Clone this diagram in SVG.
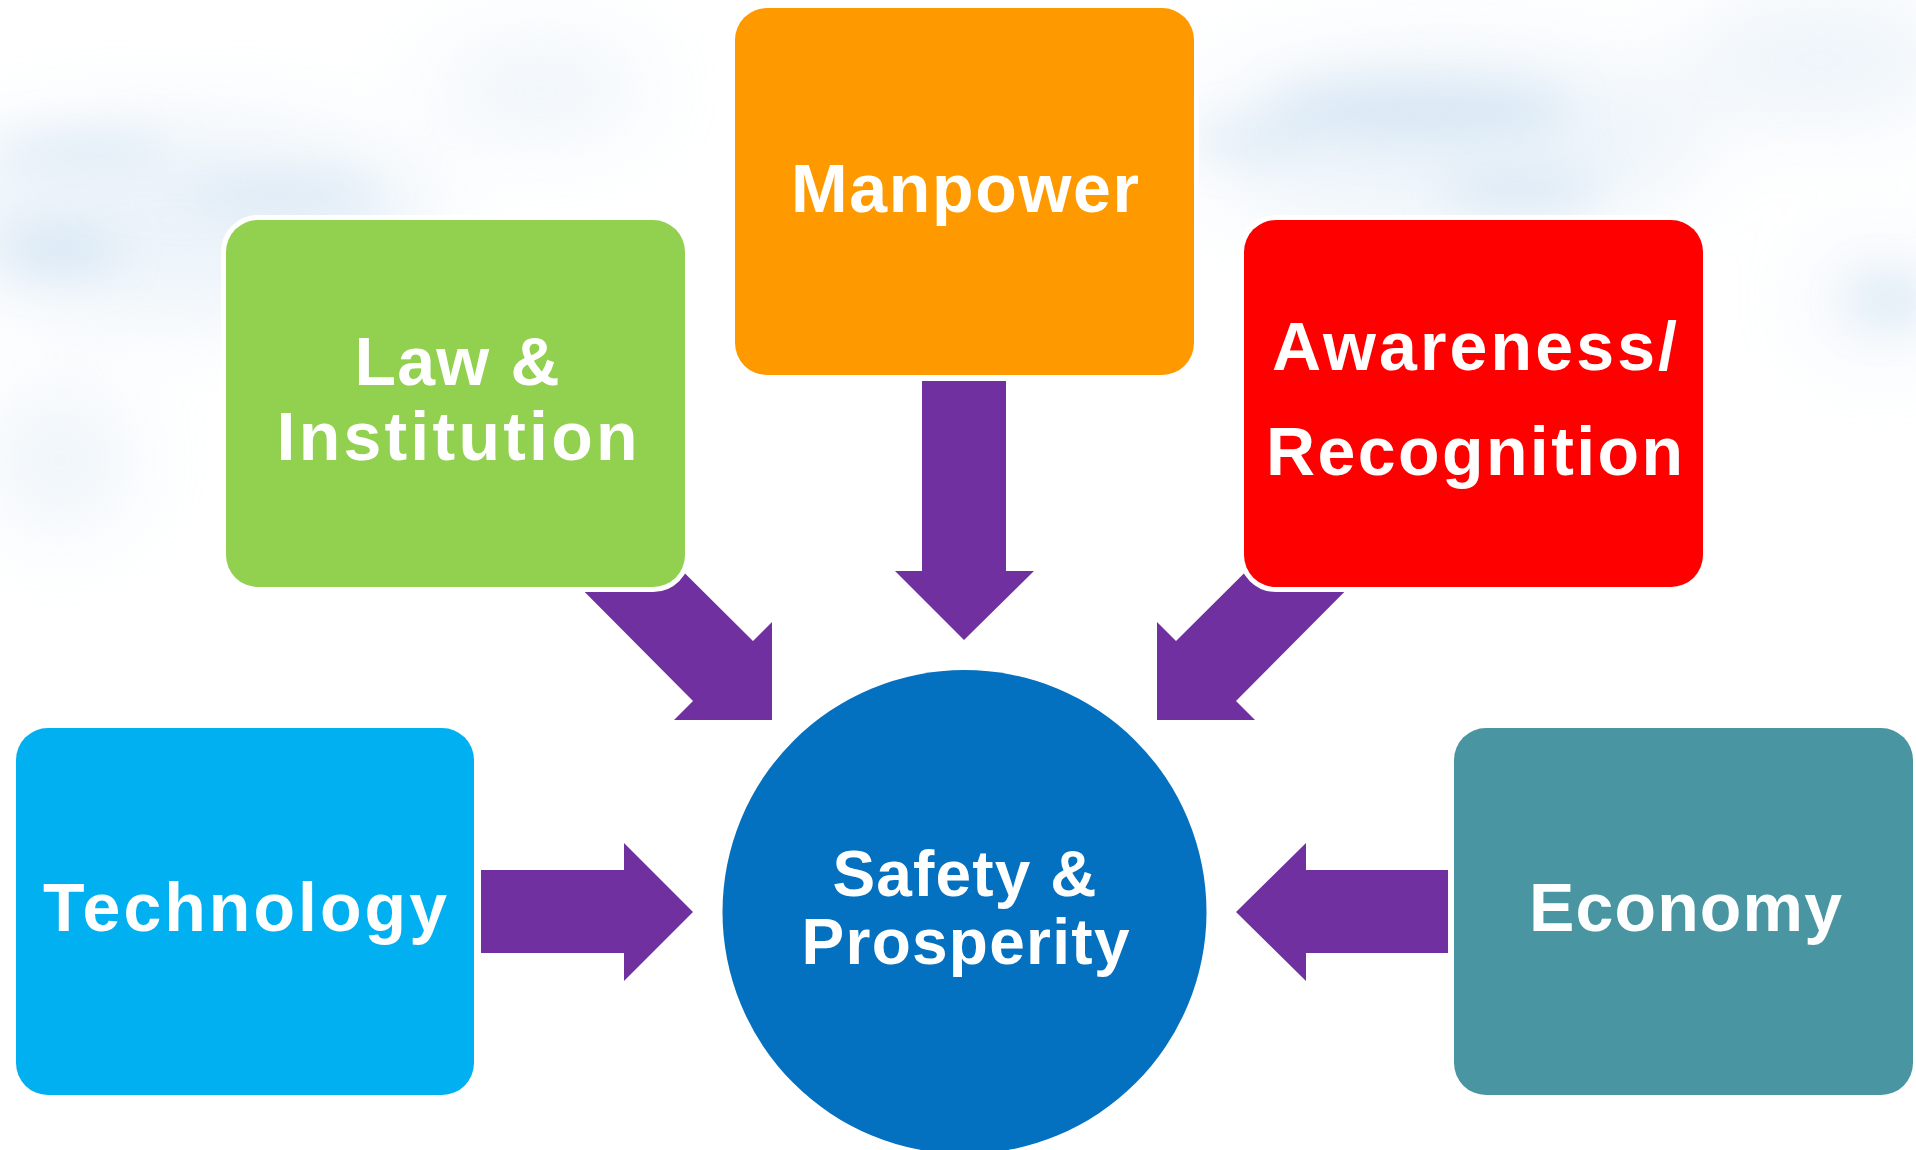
<svg xmlns="http://www.w3.org/2000/svg" width="1916" height="1150" viewBox="0 0 1916 1150">
  <style>
    .box { stroke: #ffffff; stroke-width: 10; paint-order: stroke; }
    .lbl { font-family: "Liberation Sans", Arial, Helvetica, sans-serif; font-weight: bold; font-size: 68px; fill: #ffffff; text-anchor: middle; }
    .clbl { font-size: 64px; }
    .arrow { fill: #7030A0; }
    .cloud { fill: #c9def0; }
  </style>
  <defs>
    <filter id="blur" x="-50%" y="-50%" width="200%" height="200%">
      <feGaussianBlur stdDeviation="22"/>
    </filter>
    <filter id="blur2" x="-50%" y="-50%" width="200%" height="200%">
      <feGaussianBlur stdDeviation="45"/>
    </filter>
  </defs>

  <rect x="0" y="0" width="1916" height="1150" fill="#ffffff"/>

  <g id="background-clouds">
    <g filter="url(#blur2)" opacity="0.35">
      <ellipse class="cloud" cx="180" cy="220" rx="260" ry="100"/>
      <ellipse class="cloud" cx="540" cy="90" rx="110" ry="45"/>
      <ellipse class="cloud" cx="1450" cy="140" rx="260" ry="90"/>
      <ellipse class="cloud" cx="1820" cy="60" rx="140" ry="60"/>
      <ellipse class="cloud" cx="1880" cy="300" rx="70" ry="50"/>
      <ellipse class="cloud" cx="60" cy="460" rx="70" ry="70"/>
    </g>
    <g filter="url(#blur)" opacity="0.55">
      <ellipse class="cloud" cx="80" cy="150" rx="90" ry="14"/>
      <ellipse class="cloud" cx="280" cy="195" rx="100" ry="16"/>
      <ellipse class="cloud" cx="60" cy="250" rx="60" ry="25"/>
      <ellipse class="cloud" cx="1250" cy="140" rx="60" ry="12"/>
      <ellipse class="cloud" cx="1420" cy="110" rx="150" ry="30"/>
      <ellipse class="cloud" cx="1520" cy="190" rx="80" ry="20"/>
      <ellipse class="cloud" cx="1890" cy="300" rx="40" ry="20"/>
    </g>
  </g>

  <g id="connectors">
    <polygon class="arrow" points="922,381 1006,381 1006,571 1034,571 964,640 895,571 922,571"/>
    <polygon class="arrow" points="481,870 624,870 624,843 693,912 624,981 624,953 481,953"/>
    <polygon class="arrow" points="1448,870 1306,870 1306,843 1236,912 1306,981 1306,953 1448,953"/>
    <polygon class="arrow" points="597,486 753,641 772,622 772,720 674,720 693,701 538,545"/>
    <polygon class="arrow" points="1332,486 1176,641 1157,622 1157,720 1255,720 1236,701 1391,545"/>
  </g>

  <g id="node-law">
    <rect class="box" x="226" y="220" width="459" height="367" rx="32" fill="#92D050"/>
    <text class="lbl" x="457" y="385" textLength="205" lengthAdjust="spacing">Law &amp;</text>
    <text class="lbl" x="457" y="460" textLength="361" lengthAdjust="spacing">Institution</text>
  </g>

  <g id="node-manpower">
    <rect class="box" x="735" y="8" width="459" height="367" rx="32" fill="#FF9900"/>
    <text class="lbl" x="965" y="212" textLength="348" lengthAdjust="spacing">Manpower</text>
  </g>

  <g id="node-awareness">
    <rect class="box" x="1244" y="220" width="459" height="367" rx="32" fill="#FF0000"/>
    <text class="lbl" x="1474.5" y="370" textLength="405" lengthAdjust="spacing">Awareness/</text>
    <text class="lbl" x="1474.5" y="475" textLength="417" lengthAdjust="spacing">Recognition</text>
  </g>

  <g id="node-technology">
    <rect class="box" x="16" y="728" width="458" height="367" rx="32" fill="#00B0F0"/>
    <text class="lbl" x="245" y="931" textLength="404" lengthAdjust="spacing">Technology</text>
  </g>

  <g id="node-economy">
    <rect class="box" x="1454" y="728" width="459" height="367" rx="32" fill="#4996A2"/>
    <text class="lbl" x="1685.5" y="931" textLength="313" lengthAdjust="spacing">Economy</text>
  </g>

  <g id="node-safety">
    <circle cx="964.5" cy="912" r="242" fill="#0470C0"/>
    <text class="lbl clbl" x="964.5" y="896" textLength="264" lengthAdjust="spacing">Safety &amp;</text>
    <text class="lbl clbl" x="965.5" y="964" textLength="328" lengthAdjust="spacing">Prosperity</text>
  </g>
</svg>
